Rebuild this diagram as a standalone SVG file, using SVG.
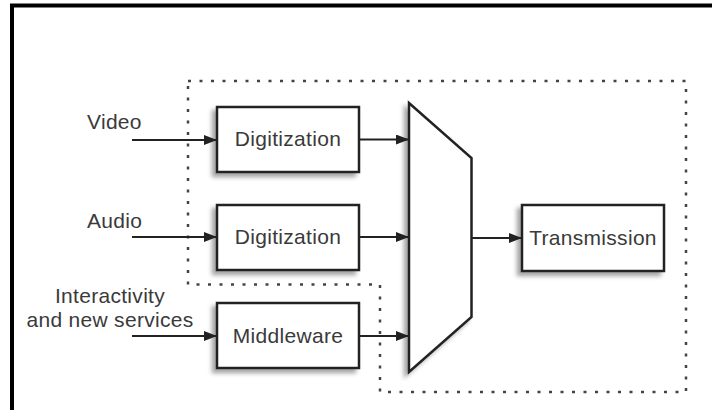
<svg xmlns="http://www.w3.org/2000/svg" width="712" height="410" viewBox="0 0 712 410">
<defs>
<filter id="sh" x="-20%" y="-20%" width="140%" height="140%">
<feGaussianBlur in="SourceAlpha" stdDeviation="2"/>
<feOffset dx="-4" dy="4" result="b"/>
<feFlood flood-color="#000" flood-opacity="0.35"/>
<feComposite in2="b" operator="in"/>
<feMerge><feMergeNode/><feMergeNode in="SourceGraphic"/></feMerge>
</filter>
<marker id="ah" viewBox="0 0 13 10" refX="13" refY="5" markerWidth="13" markerHeight="10" markerUnits="userSpaceOnUse" orient="auto">
<path d="M0,0 L13,5 L0,10 Z" fill="#222"/>
</marker>
<style>
.box{fill:#fff;stroke:#222;stroke-width:2.5;filter:url(#sh)}
.t{font-family:"Liberation Sans",Arial,sans-serif;font-size:21px;fill:#3a3a3a;letter-spacing:0.3px}
.c{stroke:#222;stroke-width:2;fill:none;marker-end:url(#ah)}
.dot{fill:none;stroke:#444;stroke-width:2.5;stroke-dasharray:3 8.5}
</style>
</defs>
<rect x="0" y="0" width="712" height="410" fill="#fff"/>
<rect id="frame" x="12" y="5.5" width="720" height="420" fill="none" stroke="#000" stroke-width="4"/>
<path id="boundary" class="dot" d="M188,81 H686 V392 H380 V284.5 H188 Z"/>
<g id="labels">
<text class="t" x="87" y="129">Video</text>
<text class="t" x="87" y="228">Audio</text>
<text class="t" x="110" y="303" text-anchor="middle">Interactivity</text>
<text class="t" x="110" y="327" text-anchor="middle">and new services</text>
</g>
<g id="digitization1"><rect class="box" x="217" y="107" width="142" height="65"/><text class="t" x="288" y="146" text-anchor="middle">Digitization</text></g>
<g id="digitization2"><rect class="box" x="217" y="205" width="142" height="65"/><text class="t" x="288" y="244" text-anchor="middle">Digitization</text></g>
<g id="middleware"><rect class="box" x="217" y="303" width="142" height="65"/><text class="t" x="288" y="343" text-anchor="middle">Middleware</text></g>
<g id="mux"><path class="box" d="M409,103 L471.5,158 L471.5,317 L409,372 Z" stroke-width="2"/></g>
<g id="transmission"><rect class="box" x="522" y="205" width="142" height="66"/><text class="t" x="593" y="245" text-anchor="middle">Transmission</text></g>
<g id="connectors">
<path class="c" d="M132,140 H217"/>
<path class="c" d="M132,237 H217"/>
<path class="c" d="M132,336 H217"/>
<path class="c" d="M359,139.5 H409"/>
<path class="c" d="M359,237 H409"/>
<path class="c" d="M359,336 H409"/>
<path class="c" d="M471.5,238 H522"/>
</g>
</svg>
